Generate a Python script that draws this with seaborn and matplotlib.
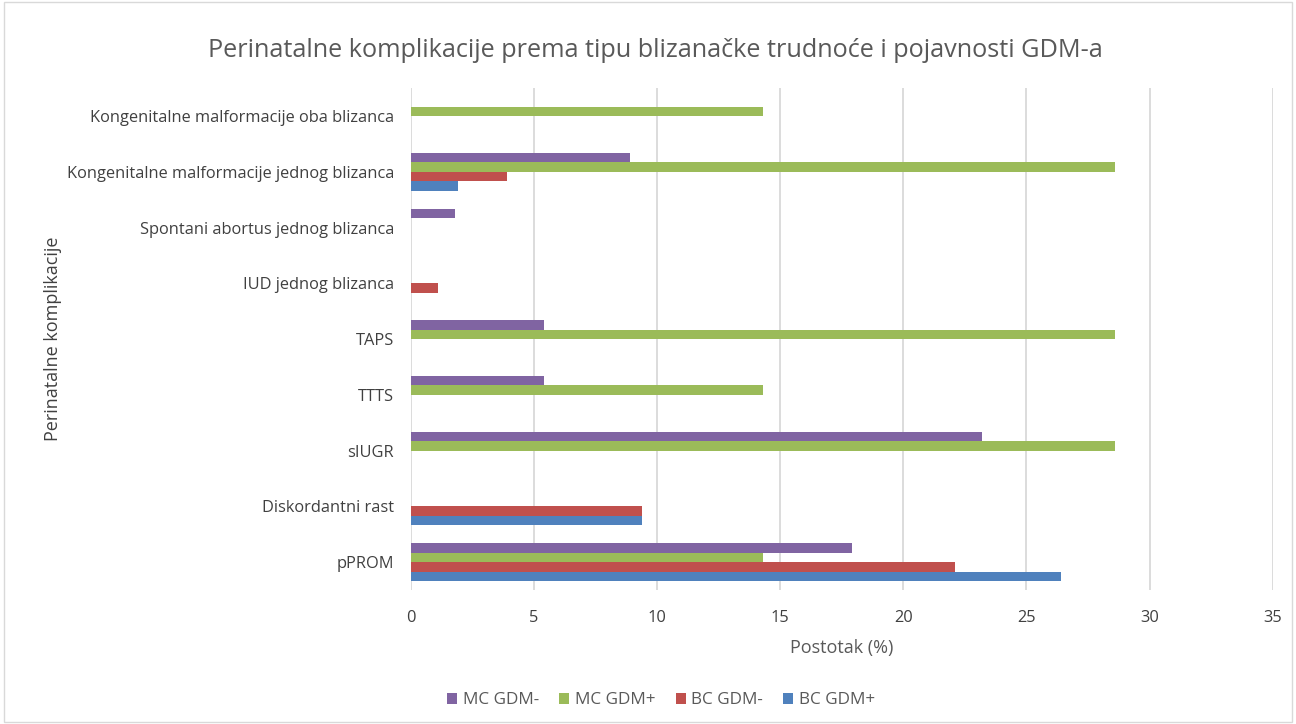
import numpy as np
import pandas as pd
import seaborn as sns
import matplotlib.pyplot as plt
from matplotlib.patches import Rectangle

sns.set_style("white")
plt.rcParams['font.family'] = ['Open Sans', 'DejaVu Sans']

# Data
categories = [
    'Kongenitalne malformacije oba blizanca',
    'Kongenitalne malformacije jednog blizanca',
    'Spontani abortus jednog blizanca',
    'IUD jednog blizanca',
    'TAPS',
    'TTTS',
    'sIUGR',
    'Diskordantni rast',
    'pPROM',
]
series = ['MC GDM-', 'MC GDM+', 'BC GDM-', 'BC GDM+']
mc_gdm_neg = [0, 8.9, 1.8, 0, 5.4, 5.4, 23.2, 0, 17.9]
mc_gdm_pos = [14.3, 28.6, 0, 0, 28.6, 14.3, 28.6, 0, 14.3]
bc_gdm_neg = [0, 3.9, 0, 1.1, 0, 0, 0, 9.4, 22.1]
bc_gdm_pos = [0, 1.9, 0, 0, 0, 0, 0, 9.4, 26.4]
colors = ['#8064A2', '#9BBB59', '#C0504D', '#4F81BD']
x_ticks = [0, 5, 10, 15, 20, 25, 30, 35]

df = pd.DataFrame({
    'category': categories * 4,
    'series': [s for s in series for _ in categories],
    'value': mc_gdm_neg + mc_gdm_pos + bc_gdm_neg + bc_gdm_pos,
})

fig = plt.figure(figsize=(12.96, 7.24), dpi=100)
ax = fig.add_axes([0.317, 0.185, 0.665, 0.693])

sns.barplot(data=df, y='category', x='value', hue='series', order=categories,
            hue_order=series, palette=colors, orient='h', width=0.68,
            saturation=1, linewidth=0, errorbar=None, ax=ax)

ax.set_xlim(0, 35)
ax.set_xticks(x_ticks)
ax.xaxis.grid(True, color='#D9D9D9', linewidth=1.3)
ax.set_axisbelow(True)
for s in ax.spines.values():
    s.set_visible(False)
ax.tick_params(axis='both', length=0, labelsize=11.8)
ax.tick_params(axis='x', pad=14)
ax.tick_params(axis='y', pad=12)
for lbl in ax.get_yticklabels() + ax.get_xticklabels():
    lbl.set_color('#404040')

ax.set_xlabel('Postotak (%)', fontsize=13, color='#595959', labelpad=10)
ax.set_ylabel('Perinatalne komplikacije', fontsize=13, color='#404040', labelpad=0)
ax.yaxis.set_label_coords(-0.405, 0.5)

fig.suptitle('Perinatalne komplikacije prema tipu blizanačke trudnoće i pojavnosti GDM-a',
             fontsize=18.2, color='#595959', x=0.506, y=0.948)

handles, labels = ax.get_legend_handles_labels()
ax.get_legend().remove()
fig.legend(handles, labels, loc='center', bbox_to_anchor=(0.51, 0.033), ncol=4,
           frameon=False, fontsize=12.3, handlelength=0.6, handleheight=0.6,
           columnspacing=1.2, handletextpad=0.3, labelcolor='#595959')

fig.patches.append(Rectangle((0.003, 0.003), 0.994, 0.994, transform=fig.transFigure,
                             fill=False, edgecolor='#D9D9D9', linewidth=1))

fig.savefig('out.png', dpi=100)
